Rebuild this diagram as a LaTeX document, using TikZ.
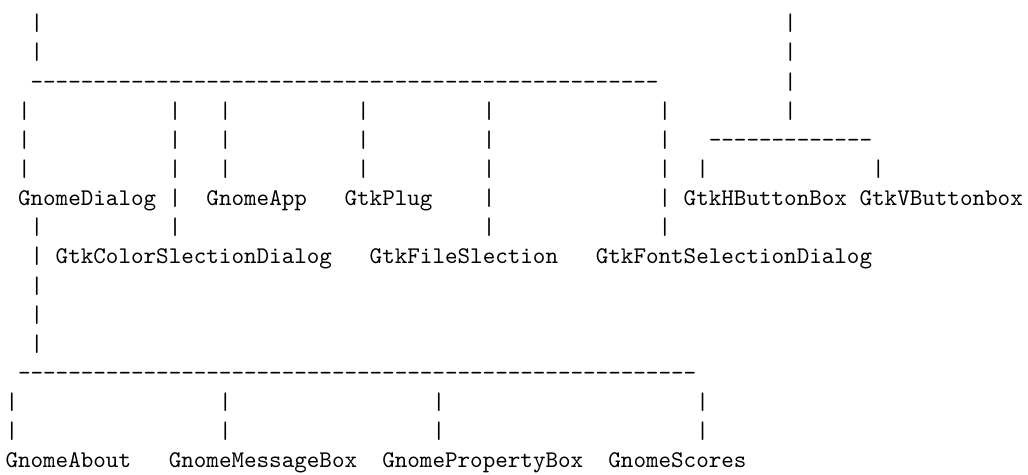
\documentclass[tikz,border=0pt]{standalone}
\usepackage{fontspec}
\setmonofont{lmmono10-regular.otf}
% character grid of the plain-text class tree
\newcommand\asciifont{\fontsize{23.92}{29}\selectfont\ttfamily}
\newcommand\cw{12.56}   % column width
\newcommand\lx{5.5}     % left edge of column 0
\newcommand\ly{30.7}    % baseline of row 1
\newcommand\ls{29.15}   % row pitch
\newcommand\dashrun[1]{\foreach \i in {1,...,#1}{-\kern0pt}}
\tikzset{tok/.style={anchor=base west, inner sep=0pt, outer sep=0pt, font=\asciifont}}
% \tok{name}{column}{row}{text}
\newcommand\tok[4]{\node[tok] (#1) at ({(\lx+#2*\cw)*1pt},{-(\ly+(#3-1)*\ls)*1pt}) {#4};}
\begin{document}
\begin{tikzpicture}
\fill[white] (0,0) rectangle (1028pt,-474pt);
\useasboundingbox (0,0) rectangle (1028pt,-474pt);
% rows 1-3: top stems and the first bar
\tok{r1a}{2}{1}{|}  \tok{r1b}{62}{1}{|}
\tok{r2a}{2}{2}{|}  \tok{r2b}{62}{2}{|}
\tok{bus1}{2}{3}{\dashrun{50}} \tok{r3b}{62}{3}{|}
% rows 4-6: drops to the first level
\foreach \c [count=\k] in {1,13,17,28,38,52,62}{\tok{r4-\k}{\c}{4}{|}}
\foreach \c [count=\k] in {1,13,17,28,38,52}{\tok{r5-\k}{\c}{5}{|}}
\tok{bus2}{56}{5}{\dashrun{13}}
\foreach \c [count=\k] in {1,13,17,28,38,52,55,69}{\tok{r6-\k}{\c}{6}{|}}
% row 7: first class names
\tok{gnomedialog}{1}{7}{GnomeDialog}
\tok{r7a}{13}{7}{|}
\tok{gnomeapp}{16}{7}{GnomeApp}
\tok{gtkplug}{27}{7}{GtkPlug}
\tok{r7b}{38}{7}{|}
\tok{r7c}{52}{7}{|}
\tok{hbuttonbox}{54}{7}{GtkHButtonBox}
\tok{vbuttonbox}{68}{7}{GtkVButtonbox}
% rows 8-9: second group of names
\foreach \c [count=\k] in {2,13,38,52}{\tok{r8-\k}{\c}{8}{|}}
\tok{r9a}{2}{9}{|}
\tok{colorsel}{4}{9}{GtkColorSlectionDialog}
\tok{filesel}{29}{9}{GtkFileSlection}
\tok{fontsel}{47}{9}{GtkFontSelectionDialog}
% rows 10-13: stem down to the lower bar
\tok{r10}{2}{10}{|}
\tok{r11}{2}{11}{|}
\tok{r12}{2}{12}{|}
\tok{bus3}{1}{13}{\dashrun{54}}
% rows 14-16: GnomeDialog children
\foreach \c [count=\k] in {0,17,34,55}{\tok{r14-\k}{\c}{14}{|}\tok{r15-\k}{\c}{15}{|}}
\tok{gnomeabout}{0}{16}{GnomeAbout}
\tok{msgbox}{13}{16}{GnomeMessageBox}
\tok{propbox}{30}{16}{GnomePropertyBox}
\tok{scores}{48}{16}{GnomeScores}
\end{tikzpicture}
\end{document}
